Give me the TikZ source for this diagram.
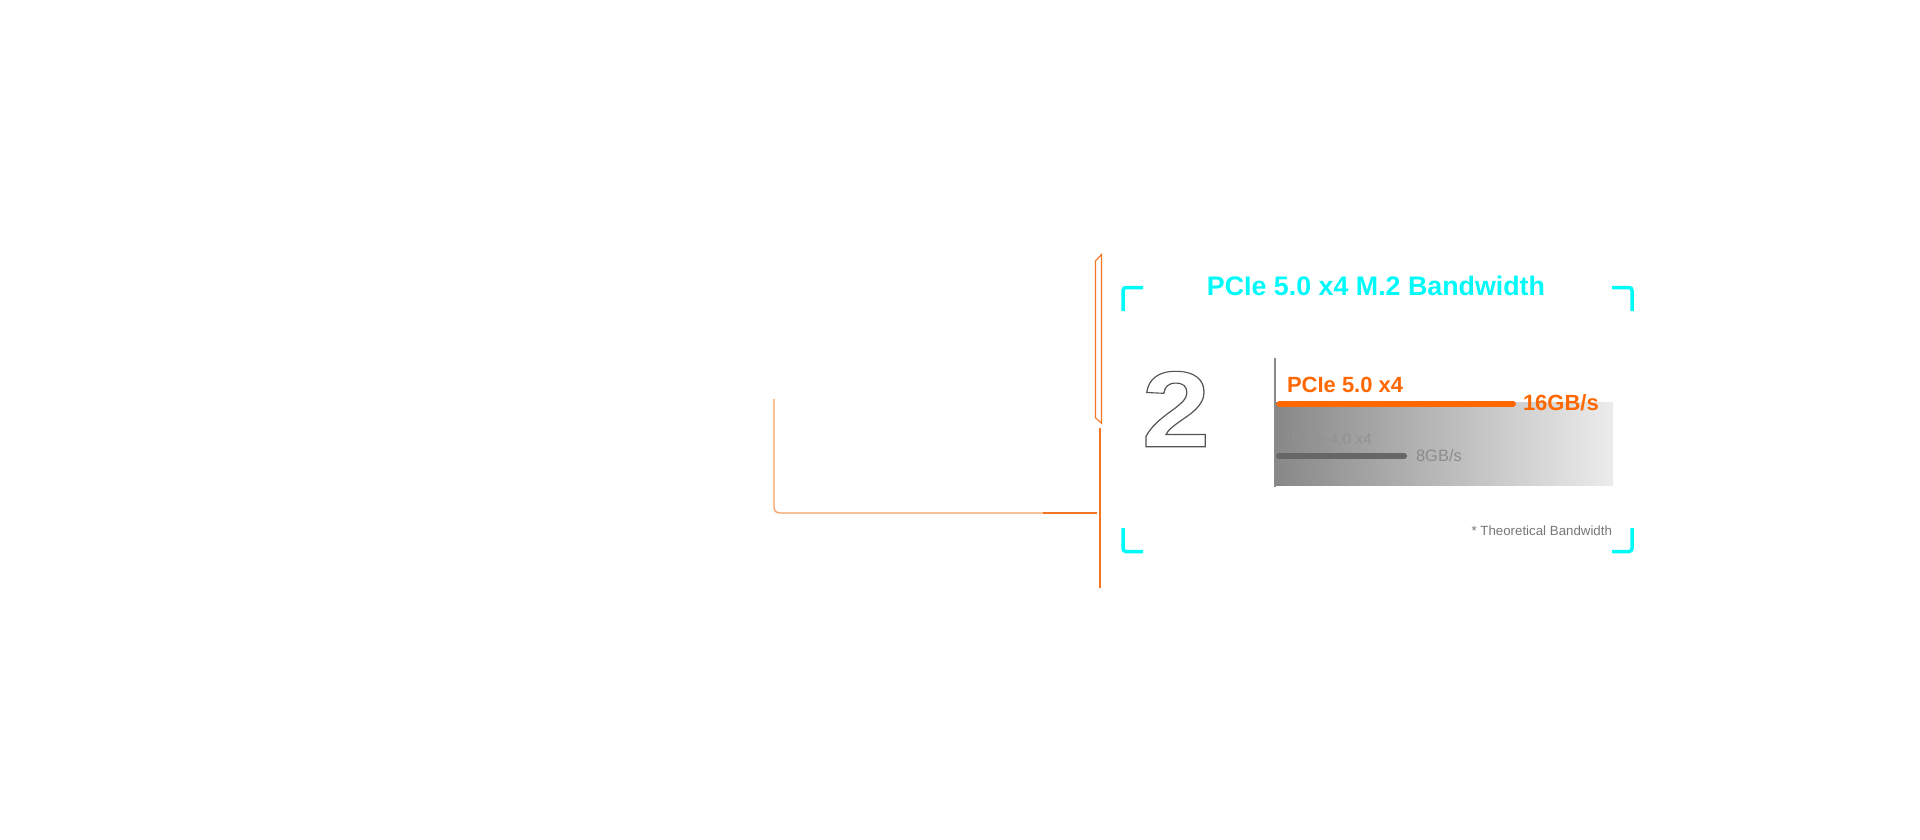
\documentclass[tikz,border=0pt]{standalone}
\usepackage{fontspec}
\usepackage{graphicx}
\setmainfont{Liberation Sans}
\definecolor{cyanbr}{RGB}{0,250,250}
\definecolor{orbar}{RGB}{255,104,0}
\definecolor{orline}{RGB}{242,118,34}
\definecolor{orlight}{RGB}{247,160,96}
\definecolor{axisgray}{RGB}{138,138,138}
\definecolor{bargray}{RGB}{102,102,102}
\definecolor{txtgray}{RGB}{146,146,146}
\definecolor{valgray}{RGB}{140,140,140}
\definecolor{notegray}{RGB}{119,119,119}
\definecolor{shadeL}{RGB}{136,136,136}
\definecolor{shadeR}{RGB}{236,236,236}
\newcommand\outlinedigit[1]{\special{pdf:literal direct 1 Tr 1.1 w 0.33 0.33 0.33 RG}#1\special{pdf:literal direct 0 Tr}}
\tikzset{
  bracket/.style={draw=cyanbr, line width=3.5pt, rounded corners=3pt},
  txt/.style={inner sep=0pt, outer sep=0pt},
  oline/.style={draw=orline, line width=1.2pt},
}
\begin{document}
\begin{tikzpicture}[x=1pt,y=-1pt]
\useasboundingbox[fill=white] (0,0) rectangle (1920,840);

% orange connector lines
\coordinate (lTop) at (774,399);
\coordinate (lCorner) at (774,513);
\coordinate (lMid) at (1043,513);
\coordinate (lEnd) at (1097,513);
\draw[draw=orlight, line width=1.3pt, rounded corners=5pt] (lTop) -- (lCorner) -- (lMid);
\draw[draw=orline, line width=1.3pt] (lMid) -- (lEnd);
\coordinate (vTop) at (1100,428);
\coordinate (vBot) at (1100,588);
\draw[draw=orline, line width=1.8pt] (vTop) -- (vBot);
\draw[oline, line width=1.1pt] (1095.5,261) -- (1101.5,254.5) -- (1101.5,423.3) -- (1095.5,417.7) -- cycle;

% cyan corner brackets
\draw[bracket] (1123,311) -- (1123,287.5) -- (1143,287.5);
\draw[bracket] (1612,287.5) -- (1632,287.5) -- (1632,311);
\draw[bracket] (1123,528) -- (1123,551.5) -- (1143,551.5);
\draw[bracket] (1612,551.5) -- (1632,551.5) -- (1632,528);

% title
\node[txt, anchor=base, text=cyanbr, font=\fontsize{26.8}{30}\selectfont\bfseries] (title) at (1376,295) {PCIe 5.0 x4 M.2 Bandwidth};

% big outlined 2
\node[txt, anchor=center] (two) at (1176,409) {\fontsize{108}{110}\selectfont\bfseries\scalebox{1.14}[1]{\outlinedigit{2}}};

% chart
\shade[left color=shadeL, right color=shadeR] (1276,402) rectangle (1613,485);
\draw[draw=orbar, line width=6.3pt, line cap=round] (1279.5,403.8) -- (1512.8,403.8);
\draw[draw=bargray, line width=6pt, line cap=round] (1279,456) -- (1404,456);
\draw[draw=axisgray, line width=2pt] (1275,358) -- (1275,487);

\node[txt, anchor=base west, text=orbar, font=\fontsize{22}{26}\selectfont\bfseries] (p5) at (1287,392.3) {PCIe 5.0 x4};
\node[txt, anchor=base west, text=orbar, font=\fontsize{22}{26}\selectfont\bfseries] (v16) at (1523,410) {16GB/s};
\node[txt, anchor=base west, text=txtgray, font=\fontsize{15.5}{18}\selectfont] (p4) at (1291,444) {PCIe 4.0 x4};
\node[txt, anchor=base west, text=valgray, font=\fontsize{16.5}{19}\selectfont] (v8) at (1416,461) {8GB/s};
\node[txt, anchor=base east, text=notegray, font=\fontsize{13.3}{16}\selectfont] (note) at (1612,535) {* Theoretical Bandwidth};
\end{tikzpicture}
\end{document}
